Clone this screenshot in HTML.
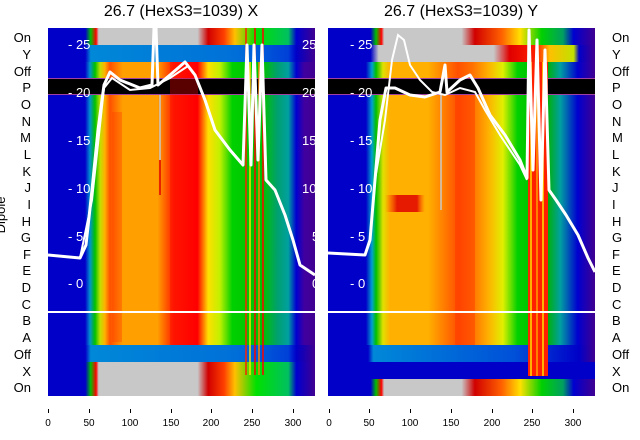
<!DOCTYPE html>
<html><head><meta charset="utf-8"><style>
html,body{margin:0;padding:0;background:#fff;}
svg{display:block;font-family:"Liberation Sans","DejaVu Sans",sans-serif;}
</style></head><body>
<svg width="640" height="440" viewBox="0 0 640 440" xmlns="http://www.w3.org/2000/svg">
<defs>
<clipPath id="cl"><rect x="48" y="28" width="267" height="368"/></clipPath>
<clipPath id="cr"><rect x="328" y="28" width="267" height="368"/></clipPath>
<linearGradient id="ls" x1="48" x2="315" y1="0" y2="0" gradientUnits="userSpaceOnUse">
<stop offset="0" stop-color="#0000c8"/><stop offset="0.139" stop-color="#0000c8"/>
<stop offset="0.157" stop-color="#0090d0"/><stop offset="0.176" stop-color="#00c000"/>
<stop offset="0.195" stop-color="#c0e000"/><stop offset="0.213" stop-color="#ffb000"/>
<stop offset="0.232" stop-color="#ff5000"/><stop offset="0.28" stop-color="#ffa000"/>
<stop offset="0.41" stop-color="#ffa000"/><stop offset="0.47" stop-color="#ff2000"/>
<stop offset="0.56" stop-color="#ff0000"/><stop offset="0.6" stop-color="#ffe000"/>
<stop offset="0.644" stop-color="#c0f000"/><stop offset="0.69" stop-color="#00d000"/>
<stop offset="0.805" stop-color="#00c000"/><stop offset="0.86" stop-color="#00a070"/>
<stop offset="0.9" stop-color="#00a0a0"/><stop offset="0.93" stop-color="#0000d0"/>
<stop offset="0.96" stop-color="#4000a0"/><stop offset="1" stop-color="#400090"/>
</linearGradient>
<linearGradient id="lg" x1="48" x2="315" y1="0" y2="0" gradientUnits="userSpaceOnUse">
<stop offset="0" stop-color="#0000c8"/><stop offset="0.14" stop-color="#0000c8"/>
<stop offset="0.16" stop-color="#00c000"/><stop offset="0.18" stop-color="#ff0000"/>
<stop offset="0.19" stop-color="#c8c8c8"/><stop offset="0.56" stop-color="#c8c8c8"/>
<stop offset="0.6" stop-color="#d00000"/><stop offset="0.66" stop-color="#ff4000"/>
<stop offset="0.7" stop-color="#ffc000"/><stop offset="0.78" stop-color="#00e000"/>
<stop offset="0.9" stop-color="#00c060"/><stop offset="0.93" stop-color="#0000d0"/>
<stop offset="1" stop-color="#400090"/>
</linearGradient>
<linearGradient id="lb" x1="48" x2="315" y1="0" y2="0" gradientUnits="userSpaceOnUse">
<stop offset="0" stop-color="#0000c8"/><stop offset="0.14" stop-color="#0000c8"/>
<stop offset="0.16" stop-color="#0088d8"/><stop offset="0.7" stop-color="#0070d8"/>
<stop offset="0.9" stop-color="#0040d8"/><stop offset="0.93" stop-color="#0000c8"/>
<stop offset="1" stop-color="#400090"/>
</linearGradient>
<linearGradient id="rs" x1="328" x2="595" y1="0" y2="0" gradientUnits="userSpaceOnUse">
<stop offset="0" stop-color="#0000c8"/><stop offset="0.142" stop-color="#0000c8"/>
<stop offset="0.165" stop-color="#00a0d0"/><stop offset="0.18" stop-color="#00c000"/>
<stop offset="0.206" stop-color="#e0e000"/><stop offset="0.232" stop-color="#ffb000"/>
<stop offset="0.375" stop-color="#ffb000"/><stop offset="0.487" stop-color="#ff5000"/>
<stop offset="0.54" stop-color="#ff7000"/><stop offset="0.6" stop-color="#ffb000"/>
<stop offset="0.655" stop-color="#e0f000"/><stop offset="0.71" stop-color="#00d000"/>
<stop offset="0.82" stop-color="#00b000"/><stop offset="0.87" stop-color="#00a0a0"/>
<stop offset="0.935" stop-color="#0000d0"/><stop offset="1" stop-color="#400090"/>
</linearGradient>
<linearGradient id="rg" x1="328" x2="595" y1="0" y2="0" gradientUnits="userSpaceOnUse">
<stop offset="0" stop-color="#0000c8"/><stop offset="0.16" stop-color="#0000c8"/>
<stop offset="0.18" stop-color="#00c000"/><stop offset="0.2" stop-color="#ff0000"/>
<stop offset="0.21" stop-color="#c8c8c8"/><stop offset="0.5" stop-color="#c8c8c8"/>
<stop offset="0.55" stop-color="#d00000"/><stop offset="0.65" stop-color="#ff6000"/>
<stop offset="0.72" stop-color="#ffe000"/><stop offset="0.8" stop-color="#00d000"/>
<stop offset="0.88" stop-color="#00a060"/><stop offset="0.92" stop-color="#0000d0"/>
<stop offset="1" stop-color="#400090"/>
</linearGradient>
<linearGradient id="ry" x1="328" x2="595" y1="0" y2="0" gradientUnits="userSpaceOnUse">
<stop offset="0" stop-color="#0000c8"/><stop offset="0.16" stop-color="#0000c8"/>
<stop offset="0.19" stop-color="#c8c8c8"/><stop offset="0.62" stop-color="#c8c8c8"/>
<stop offset="0.68" stop-color="#e00000"/><stop offset="0.78" stop-color="#ff2000"/>
<stop offset="0.83" stop-color="#ffc000"/><stop offset="0.92" stop-color="#c0e000"/>
<stop offset="0.94" stop-color="#0000c8"/><stop offset="1" stop-color="#400090"/>
</linearGradient>
<linearGradient id="rb" x1="328" x2="595" y1="0" y2="0" gradientUnits="userSpaceOnUse">
<stop offset="0" stop-color="#0000c8"/><stop offset="0.15" stop-color="#0000c8"/>
<stop offset="0.17" stop-color="#0088d8"/><stop offset="0.7" stop-color="#0050d8"/>
<stop offset="0.94" stop-color="#0000c8"/><stop offset="1" stop-color="#400090"/>
</linearGradient>
<linearGradient id="ri" x1="385" x2="425" y1="0" y2="0" gradientUnits="userSpaceOnUse">
<stop offset="0" stop-color="#ff4000" stop-opacity="0"/><stop offset="0.3" stop-color="#e00000"/>
<stop offset="0.8" stop-color="#e00000"/><stop offset="1" stop-color="#ff4000" stop-opacity="0"/>
</linearGradient>
</defs>

<text x="181" y="16" font-size="16" text-anchor="middle">26.7 (HexS3=1039) X</text>
<text x="461" y="16" font-size="16" text-anchor="middle">26.7 (HexS3=1039) Y</text>

<!-- Left panel -->
<rect x="48" y="28" width="267" height="368" fill="url(#ls)"/>
<rect x="48" y="28" width="267" height="17" fill="url(#lg)"/>
<rect x="48" y="45" width="267" height="17" fill="url(#lb)"/>
<rect x="48" y="345" width="267" height="17" fill="url(#lb)"/>
<rect x="48" y="362" width="267" height="34" fill="url(#lg)"/>
<rect x="48" y="78" width="267" height="17" fill="#000"/>
<line x1="48" y1="78.5" x2="315" y2="78.5" stroke="#a040a0"/>
<line x1="48" y1="94.5" x2="315" y2="94.5" stroke="#a040a0"/>
<rect x="112" y="112" width="10" height="230" fill="#ff4000" opacity="0.35"/>
<rect x="170" y="62" width="28" height="283" fill="#ff0000" opacity="0.35"/>
<g stroke-width="1.5">
<line x1="246" y1="28" x2="246" y2="375" stroke="#ff2000"/>
<line x1="250" y1="62" x2="250" y2="375" stroke="#ffe000"/>
<line x1="255" y1="28" x2="255" y2="375" stroke="#ff0000"/>
<line x1="259" y1="62" x2="259" y2="375" stroke="#ff8000"/>
<line x1="263" y1="28" x2="263" y2="375" stroke="#ff0000"/>
</g>
<line x1="160" y1="95" x2="160" y2="160" stroke="#c8c8c8" stroke-width="1.5"/>
<line x1="160" y1="160" x2="160" y2="195" stroke="#e00000" stroke-width="1.5"/>
<line x1="48" y1="312" x2="315" y2="312" stroke="#fff" stroke-width="2"/>
<g fill="#fff" font-size="13">
<text x="68" y="49">- 25</text><text x="68" y="97">- 20</text><text x="68" y="145">- 15</text>
<text x="68" y="193">- 10</text><text x="68" y="241">- 5</text><text x="68" y="288">- 0</text>
<text x="302" y="49">25</text><text x="302" y="97">20</text><text x="302" y="145">15</text>
<text x="302" y="193">10</text><text x="312" y="241">5</text><text x="312" y="288">0</text>
</g>
<g clip-path="url(#cl)">
<path d="M48,255 L80,258 L86,245 L92,190 L98,130 L104,85 L110,72 L120,80 L140,88 L152,85 L155,0 L158,85 L170,75 L185,62 L195,75 L205,100 L215,130 L230,150 L243,165 L247,45 L251,165 L254,45 L258,160 L262,45 L266,180 L275,190 L285,215 L293,240 L300,265 L315,275" fill="none" stroke="#fff" stroke-width="3" stroke-linejoin="round"/>
<path d="M80,258 L92,200 L104,88 L112,78 L130,90 L150,88 L170,78 L188,66" fill="none" stroke="#fff" stroke-width="2"/>
</g>

<!-- Right panel -->
<rect x="328" y="28" width="267" height="368" fill="url(#rs)"/>
<rect x="328" y="28" width="267" height="17" fill="url(#rg)"/>
<rect x="328" y="45" width="267" height="17" fill="url(#ry)"/>
<rect x="328" y="345" width="267" height="17" fill="url(#rb)"/>
<rect x="328" y="362" width="267" height="17" fill="#0000c8"/>
<rect x="328" y="379" width="267" height="17" fill="url(#rg)"/>
<rect x="328" y="78" width="267" height="17" fill="#000"/>
<line x1="328" y1="78.5" x2="595" y2="78.5" stroke="#a040a0"/>
<line x1="328" y1="94.5" x2="595" y2="94.5" stroke="#a040a0"/>
<rect x="385" y="195" width="40" height="17" fill="url(#ri)" opacity="0.85"/>
<rect x="455" y="95" width="20" height="250" fill="#ff3000" opacity="0.4"/>
<rect x="528" y="62" width="20" height="314" fill="#ff2000"/>
<g stroke-width="1.5">
<line x1="531" y1="62" x2="531" y2="376" stroke="#ffe000"/>
<line x1="537" y1="62" x2="537" y2="376" stroke="#ffa000"/>
<line x1="543" y1="62" x2="543" y2="376" stroke="#ffe000"/>
</g>
<line x1="441" y1="95" x2="441" y2="210" stroke="#c8c8c8" stroke-width="1.5"/>
<line x1="328" y1="312" x2="595" y2="312" stroke="#fff" stroke-width="2"/>
<g fill="#fff" font-size="13">
<text x="350" y="49">- 25</text><text x="350" y="97">- 20</text><text x="350" y="145">- 15</text>
<text x="350" y="193">- 10</text><text x="350" y="241">- 5</text><text x="350" y="288">- 0</text>
</g>
<g clip-path="url(#cr)">
<path d="M328,253 L365,255 L370,240 L375,180 L380,120 L386,88 L395,88 L410,95 L425,97 L440,92 L445,65 L447,92 L460,80 L470,75 L478,88 L490,115 L505,135 L520,160 L527,178 L529,30 L533,170 L537,40 L541,200 L545,50 L549,190 L556,200 L566,215 L578,235 L588,258 L595,272" fill="none" stroke="#fff" stroke-width="3" stroke-linejoin="round"/>
<path d="M375,180 L385,120 L392,60 L398,35 L404,40 L410,65 L420,80 L432,92 L445,95 L460,88 L475,92 L485,110 L500,135 L520,165 L527,180" fill="none" stroke="#fff" stroke-width="2"/>
</g>

<!-- Row labels -->
<g font-size="13" text-anchor="end">
<text x="31" y="42">On</text><text x="31" y="59">Y</text><text x="31" y="76">Off</text>
<text x="31" y="92">P</text><text x="31" y="109">O</text><text x="31" y="126">N</text>
<text x="31" y="142">M</text><text x="31" y="159">L</text><text x="31" y="176">K</text>
<text x="31" y="192">J</text><text x="31" y="209">I</text><text x="31" y="226">H</text>
<text x="31" y="242">G</text><text x="31" y="259">F</text><text x="31" y="275">E</text>
<text x="31" y="292">D</text><text x="31" y="309">C</text><text x="31" y="325">B</text>
<text x="31" y="342">A</text><text x="31" y="359">Off</text><text x="31" y="376">X</text>
<text x="31" y="392">On</text>
</g>
<g font-size="13">
<text x="612" y="42">On</text><text x="612" y="59">Y</text><text x="612" y="76">Off</text>
<text x="612" y="92">P</text><text x="612" y="109">O</text><text x="612" y="126">N</text>
<text x="612" y="142">M</text><text x="612" y="159">L</text><text x="612" y="176">K</text>
<text x="612" y="192">J</text><text x="612" y="209">I</text><text x="612" y="226">H</text>
<text x="612" y="242">G</text><text x="612" y="259">F</text><text x="612" y="275">E</text>
<text x="612" y="292">D</text><text x="612" y="309">C</text><text x="612" y="325">B</text>
<text x="612" y="342">A</text><text x="612" y="359">Off</text><text x="612" y="376">X</text>
<text x="612" y="392">On</text>
</g>
<text transform="translate(5,215) rotate(-90)" font-size="13" text-anchor="middle">Dipole</text>

<!-- X ticks -->
<g stroke="#000" stroke-width="1">
<line x1="48.5" y1="409" x2="48.5" y2="413"/><line x1="89.5" y1="409" x2="89.5" y2="413"/>
<line x1="130.5" y1="409" x2="130.5" y2="413"/><line x1="171.5" y1="409" x2="171.5" y2="413"/>
<line x1="211.5" y1="409" x2="211.5" y2="413"/><line x1="252.5" y1="409" x2="252.5" y2="413"/>
<line x1="293.5" y1="409" x2="293.5" y2="413"/>
<line x1="329.5" y1="409" x2="329.5" y2="413"/><line x1="369.5" y1="409" x2="369.5" y2="413"/>
<line x1="410.5" y1="409" x2="410.5" y2="413"/><line x1="451.5" y1="409" x2="451.5" y2="413"/>
<line x1="492.5" y1="409" x2="492.5" y2="413"/><line x1="532.5" y1="409" x2="532.5" y2="413"/>
<line x1="573.5" y1="409" x2="573.5" y2="413"/>
</g>
<g font-size="10" text-anchor="middle">
<text x="48" y="426">0</text><text x="89" y="426">50</text><text x="130" y="426">100</text>
<text x="171" y="426">150</text><text x="211" y="426">200</text><text x="252" y="426">250</text>
<text x="293" y="426">300</text>
<text x="329" y="426">0</text><text x="369" y="426">50</text><text x="410" y="426">100</text>
<text x="451" y="426">150</text><text x="492" y="426">200</text><text x="532" y="426">250</text>
<text x="573" y="426">300</text>
</g>
</svg>
</body></html>
